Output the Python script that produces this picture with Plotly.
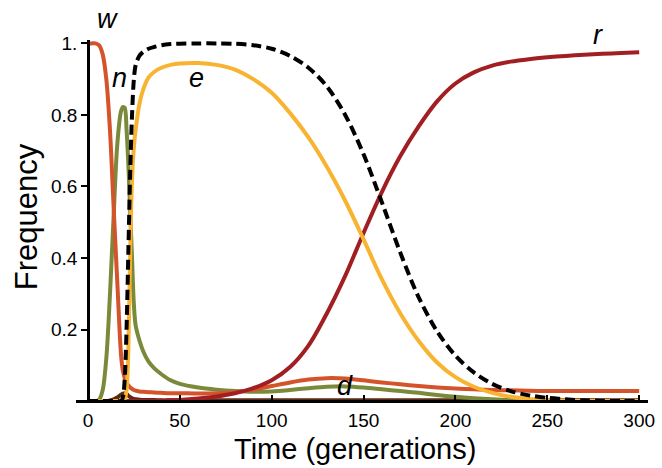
import plotly.graph_objects as go

# Time grid (generations)
t = [0, 2, 4, 6, 8, 10, 12, 14, 16, 18, 19, 20, 21, 22, 23, 24, 25, 26, 28, 30,
     33, 36, 40, 45, 50, 60, 70, 80, 90, 100, 110, 120, 130, 140, 150, 160, 170,
     180, 190, 200, 210, 220, 230, 240, 250, 260, 270, 280, 290, 300]

# w (wild type)
w = [1.0, 1.0, 1.0, 0.995, 0.97, 0.9, 0.757, 0.54, 0.33, 0.13, 0.085, 0.065, 0.052, 0.044,
     0.038, 0.034, 0.031, 0.029, 0.027, 0.026, 0.025, 0.024, 0.023, 0.022, 0.022, 0.021,
     0.022, 0.025, 0.032, 0.042, 0.052, 0.06, 0.064, 0.063, 0.058, 0.052, 0.047, 0.042,
     0.038, 0.035, 0.033, 0.031, 0.03, 0.029, 0.028, 0.028, 0.028, 0.028, 0.028, 0.028]

# n
n = [0.0, 0.0, 0.0, 0.003, 0.03, 0.12, 0.3, 0.52, 0.72, 0.81, 0.822, 0.82, 0.76, 0.66,
     0.53, 0.4, 0.27, 0.21, 0.17, 0.14, 0.11, 0.092, 0.075, 0.058, 0.048, 0.038, 0.032,
     0.028, 0.026, 0.027, 0.031, 0.036, 0.04, 0.041, 0.038, 0.033, 0.028, 0.023, 0.017,
     0.012, 0.008, 0.005, 0.003, 0.002, 0.001, 0.0, 0.0, 0.0, 0.0, 0.0]

# e
e = [0.0, 0.0, 0.0, 0.0, 0.0, 0.0, 0.0, 0.0, 0.0, 0.0, 0.0, 0.005, 0.03, 0.15, 0.42,
     0.62, 0.71, 0.76, 0.83, 0.87, 0.905, 0.92, 0.932, 0.94, 0.944, 0.945, 0.94, 0.927,
     0.9, 0.862, 0.805, 0.737, 0.655, 0.56, 0.452, 0.34, 0.245, 0.168, 0.108, 0.067, 0.04,
     0.023, 0.012, 0.006, 0.003, 0.001, 0.0, 0.0, 0.0, 0.0]

# total (dashed)
total = [0.0, 0.0, 0.0, 0.0, 0.0, 0.0, 0.0, 0.0, 0.0, 0.0, 0.01, 0.06, 0.2, 0.42, 0.64,
         0.8, 0.9, 0.94, 0.965, 0.976, 0.985, 0.99, 0.995, 0.998, 0.999, 1.0, 1.0, 0.999,
         0.995, 0.985, 0.965, 0.932, 0.88, 0.8, 0.69, 0.555, 0.415, 0.29, 0.195, 0.127,
         0.08, 0.048, 0.028, 0.016, 0.009, 0.005, 0.002, 0.001, 0.0, 0.0]

# r (resistant)
r = [0.0, 0.0, 0.0, 0.0, 0.0, 0.0, 0.0, 0.0, 0.0, 0.0, 0.0, 0.0, 0.0, 0.0, 0.0, 0.0,
     0.0, 0.0, 0.0, 0.0, 0.0, 0.0, 0.001, 0.002, 0.003, 0.007, 0.013, 0.022, 0.036,
     0.058, 0.095, 0.155, 0.245, 0.35, 0.47, 0.585, 0.685, 0.768, 0.838, 0.888, 0.919,
     0.938, 0.949, 0.956, 0.961, 0.965, 0.968, 0.971, 0.973, 0.975]

# d
d = [0.0, 0.0, 0.0, 0.0, 0.0, 0.0, 0.002, 0.005, 0.01, 0.018, 0.021, 0.022, 0.02, 0.015,
     0.011, 0.008, 0.006, 0.005, 0.004, 0.003, 0.003, 0.003, 0.002, 0.002, 0.002, 0.002,
     0.002, 0.002, 0.002, 0.002, 0.002, 0.002, 0.002, 0.002, 0.002, 0.002, 0.002, 0.002,
     0.002, 0.002, 0.002, 0.002, 0.002, 0.002, 0.002, 0.002, 0.002, 0.002, 0.002, 0.002]

x_ticks = [0, 50, 100, 150, 200, 250, 300]
y_ticks = [0.2, 0.4, 0.6, 0.8, 1.0]
y_tick_text = ["0.2", "0.4", "0.6", "0.8", "1."]

# curve labels: (text, x in data, y, y reference)
labels = ["w", "n", "e", "d", "r"]
label_x = [10.5, 17.3, 59.3, 140, 277.5]
label_y = [1.058, 0.904, 0.904, 0.042, 1.015]
label_yref = ["paper", "y", "y", "y", "paper"]

FONT = "Liberation Sans, Arial, sans-serif"

fig = go.Figure()
series = [
    (d, "#5A2A14", "solid"),
    (n, "#7A8A3A", "solid"),
    (w, "#D4532B", "solid"),
    (r, "#A11E22", "solid"),
    (e, "#F8B431", "solid"),
    (total, "#000000", "10px,5px"),
]
for ys, col, dash in series:
    fig.add_trace(go.Scatter(x=t, y=ys, mode="lines",
                             line=dict(color=col, width=4, dash=dash, shape="spline", smoothing=0.9),
                             showlegend=False, hoverinfo="skip"))

for lab, lx, ly, yr in zip(labels, label_x, label_y, label_yref):
    fig.add_annotation(x=lx, y=ly, xref="x", yref=yr, text="<i>" + lab + "</i>",
                       showarrow=False, xanchor="center", yanchor="middle",
                       font=dict(family=FONT, size=27, color="black"))

fig.add_annotation(xref="paper", yref="paper", x=0.488, y=-0.137, text="Time (generations)",
                   showarrow=False, xanchor="center", yanchor="middle",
                   font=dict(family=FONT, size=29, color="black"))
fig.add_annotation(xref="paper", yref="paper", x=-0.086, y=0.51, text="Frequency", textangle=-90,
                   showarrow=False, xanchor="center", yanchor="middle",
                   font=dict(family=FONT, size=31, color="black"))

fig.update_layout(
    width=662, height=468,
    margin=dict(l=76, r=7, t=40, b=68),
    plot_bgcolor="white", paper_bgcolor="white",
    xaxis=dict(range=[-6.5, 304.8], showgrid=False, zeroline=False, showline=True,
               linecolor="black", linewidth=2.5, ticks="inside", ticklen=5, tickwidth=2,
               tickcolor="black", tickvals=x_ticks, ticklabelstandoff=1,
               tickfont=dict(family=FONT, size=19, color="black")),
    yaxis=dict(range=[0.003, 1.0095], showgrid=False, zeroline=False, showline=True,
               linecolor="black", linewidth=2.5, ticks="outside", ticklen=6, tickwidth=2,
               tickcolor="black", tickvals=y_ticks, ticktext=y_tick_text,
               anchor="free", position=0.0209,
               tickfont=dict(family=FONT, size=19, color="black")),
)

fig.write_html("out.html", config={"displayModeBar": False},
               post_script="document.body.style.margin='0';document.body.style.overflow='hidden';")
